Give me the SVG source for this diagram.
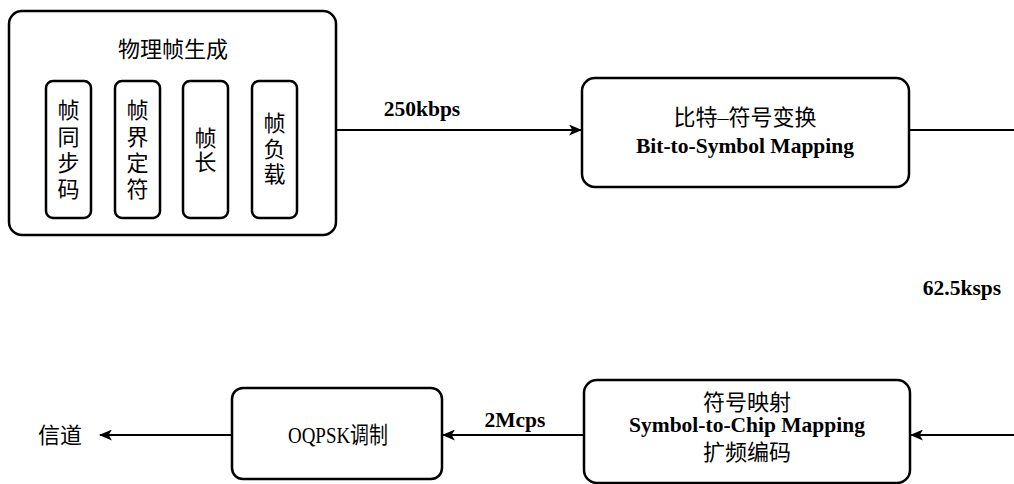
<svg xmlns="http://www.w3.org/2000/svg" width="1014" height="484" viewBox="0 0 1014 484">
<style>
.box{fill:#fff;stroke:#000;stroke-width:2.5}
.cj{font-family:"Liberation Serif","Noto Sans CJK SC",serif;font-size:22px;fill:#000;text-anchor:middle}
.en{font-family:"Liberation Serif","Noto Sans CJK SC",serif;font-size:21.5px;font-weight:bold;fill:#000;text-anchor:middle}
.ln{fill:none;stroke:#000;stroke-width:2}
</style>
<defs>
<marker id="arr" viewBox="0 0 12 10" refX="11" refY="5" markerWidth="13" markerHeight="11" markerUnits="userSpaceOnUse" orient="auto">
<path d="M0,0 L12,5 L0,10 L3,5 Z" fill="#000"/>
</marker>
</defs>
<g id="frame">
<rect class="box" x="9" y="11" width="327" height="224" rx="13"/>
<text class="cj" x="173" y="57">物理帧生成</text>
</g>
<g id="sync">
<rect class="box" x="46" y="81" width="45" height="137" rx="7"/>
<text class="cj" x="68.5" y="118">帧</text><text class="cj" x="68.5" y="145">同</text><text class="cj" x="68.5" y="171">步</text><text class="cj" x="68.5" y="197">码</text>
</g>
<g id="delim">
<rect class="box" x="115" y="81" width="45" height="137" rx="7"/>
<text class="cj" x="137.5" y="118">帧</text><text class="cj" x="137.5" y="145">界</text><text class="cj" x="137.5" y="171">定</text><text class="cj" x="137.5" y="197">符</text>
</g>
<g id="len">
<rect class="box" x="183" y="81" width="45" height="137" rx="7"/>
<text class="cj" x="205.5" y="146">帧</text><text class="cj" x="205.5" y="170">长</text>
</g>
<g id="payload">
<rect class="box" x="252" y="81" width="45" height="137" rx="7"/>
<text class="cj" x="274.5" y="131">帧</text><text class="cj" x="274.5" y="157">负</text><text class="cj" x="274.5" y="182">载</text>
</g>
<g id="bit2sym">
<rect class="box" x="582" y="78" width="327" height="109" rx="13"/>
<text class="cj" x="745" y="125">比特–符号变换</text>
<text class="en" x="745" y="153">Bit-to-Symbol Mapping</text>
</g>
<g id="sym2chip">
<rect class="box" x="584" y="380" width="326" height="103" rx="13"/>
<text class="cj" x="747" y="410">符号映射</text>
<text class="en" x="747" y="432">Symbol-to-Chip Mapping</text>
<text class="cj" x="747" y="460">扩频编码</text>
</g>
<g id="oqpsk">
<rect class="box" x="232" y="388" width="210" height="91" rx="11"/>
<text class="cj" x="288" y="443" style="text-anchor:start;font-size:23px" textLength="100" lengthAdjust="spacingAndGlyphs">OQPSK调制</text>
</g>
<g id="connectors">
<line class="ln" x1="336" y1="130" x2="581" y2="130" marker-end="url(#arr)"/>
<line class="ln" x1="909" y1="130" x2="1014" y2="130"/>
<line class="ln" x1="1014" y1="435" x2="911" y2="435" marker-end="url(#arr)"/>
<line class="ln" x1="584" y1="435" x2="443" y2="435" marker-end="url(#arr)"/>
<line class="ln" x1="232" y1="435" x2="100" y2="435" marker-end="url(#arr)"/>
<text class="en" x="422" y="116">250kbps</text>
<text class="en" x="962" y="295">62.5ksps</text>
<text class="en" x="515" y="427">2Mcps</text>
<text class="cj" x="60" y="443">信道</text>
</g>
</svg>
